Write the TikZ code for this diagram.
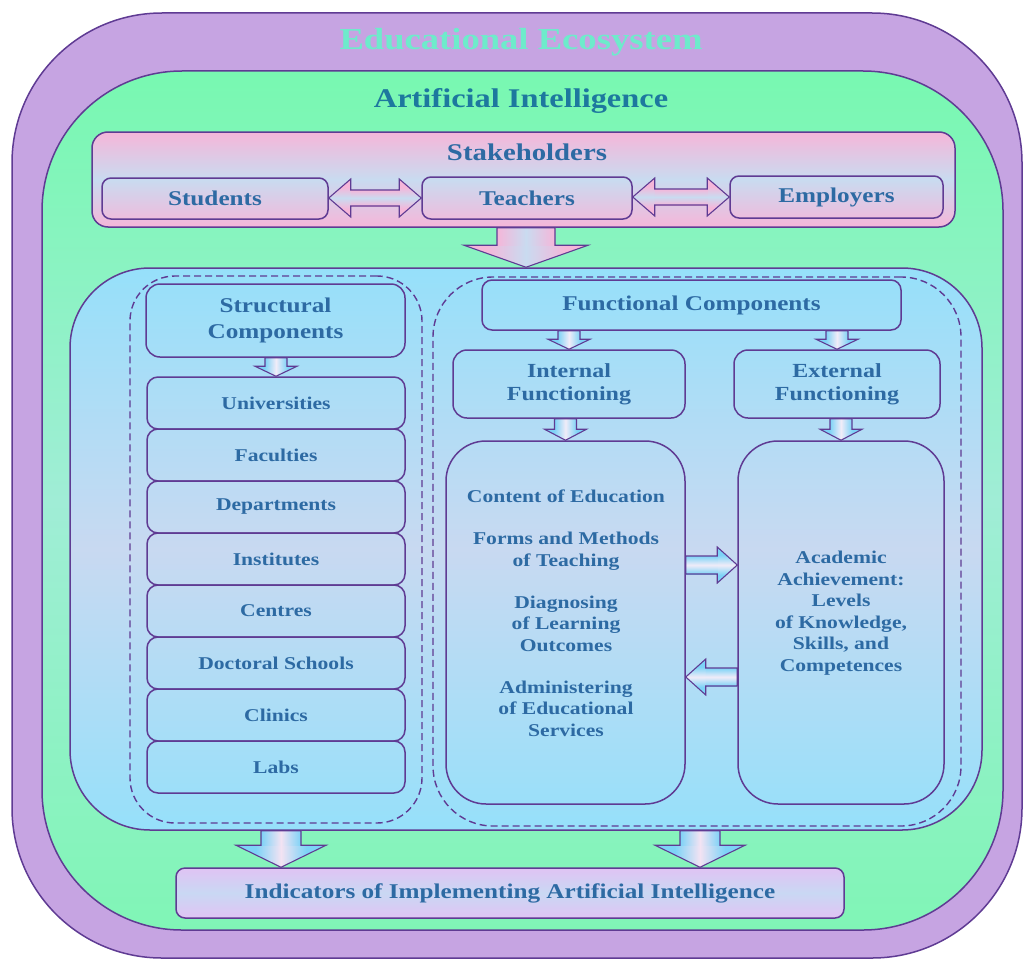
\documentclass[tikz,border=0pt]{standalone}
\usepackage{fontspec}
\setmainfont{Liberation Serif}[FakeStretch=1.2]
\usetikzlibrary{calc}
\definecolor{bordr}{HTML}{5F3B93}
\definecolor{txt}{HTML}{2D6AA3}
\definecolor{aitxt}{HTML}{1D789E}
\definecolor{ecotxt}{HTML}{6EEBCB}
\definecolor{purp}{HTML}{C6A4E2}
\definecolor{grnA}{HTML}{78F8B1}
\definecolor{grnB}{HTML}{A0EDD6}
\definecolor{grnC}{HTML}{80F5B6}
\definecolor{bluA}{HTML}{96E0FA}
\definecolor{bluB}{HTML}{C8D9F1}
\definecolor{pnkA}{HTML}{F5B6D9}
\definecolor{pnkB}{HTML}{C9DBF0}
\definecolor{lilA}{HTML}{E0C3F3}
\definecolor{lilB}{HTML}{C9D8F3}
\definecolor{arrB}{HTML}{7DD3F7}
\definecolor{arrW}{HTML}{F0ECF8}
\definecolor{arrP}{HTML}{F3E3F3}

\pgfdeclarehorizontalshading{headblueV}{100bp}{color(0bp)=(arrB); color(36bp)=(arrB); color(50bp)=(arrW); color(64bp)=(arrB); color(100bp)=(arrB)}
\pgfdeclareverticalshading{headblueH}{100bp}{color(0bp)=(arrB); color(36bp)=(arrB); color(50bp)=(arrW); color(64bp)=(arrB); color(100bp)=(arrB)}
\pgfdeclarehorizontalshading{headblueP}{100bp}{color(0bp)=(arrB); color(36bp)=(arrB); color(50bp)=(arrP); color(64bp)=(arrB); color(100bp)=(arrB)}
\pgfdeclarehorizontalshading{headpinkV}{100bp}{color(0bp)=(pnkA); color(34bp)=(pnkA); color(50bp)=(pnkB); color(66bp)=(pnkA); color(100bp)=(pnkA)}
\pgfdeclareverticalshading{headpinkH}{100bp}{color(0bp)=(pnkA); color(36bp)=(pnkA); color(50bp)=(pnkB); color(64bp)=(pnkA); color(100bp)=(pnkA)}

% block arrows: #1 head shading, #2 shaft shading, #3 source point, #4 target point, #5 shaft half width, #6 head half width, #7 head length
\newcommand\blkdown[7]{%
  \path[#1] let \p1=#3, \p2=#4 in
    (\x2-#5,\y1) -- (\x2+#5,\y1) -- (\x2+#5,\y2+#7) -- (\x2+#6,\y2+#7) -- (\x2,\y2) -- (\x2-#6,\y2+#7) -- (\x2-#5,\y2+#7) -- cycle;
  \path[#2] let \p1=#3, \p2=#4 in (\x2-#5,\y1) rectangle (\x2+#5,\y2+#7);
  \draw[arrline] let \p1=#3, \p2=#4 in
    (\x2-#5,\y1) -- (\x2+#5,\y1) -- (\x2+#5,\y2+#7) -- (\x2+#6,\y2+#7) -- (\x2,\y2) -- (\x2-#6,\y2+#7) -- (\x2-#5,\y2+#7) -- cycle;}
\newcommand\blkright[7]{%
  \path[#1] let \p1=#3, \p2=#4 in
    (\x1,\y2+#5) -- (\x2-#7,\y2+#5) -- (\x2-#7,\y2+#6) -- (\x2,\y2) -- (\x2-#7,\y2-#6) -- (\x2-#7,\y2-#5) -- (\x1,\y2-#5) -- cycle;
  \path[#2] let \p1=#3, \p2=#4 in (\x1,\y2+#5) rectangle (\x2-#7,\y2-#5);
  \draw[arrline] let \p1=#3, \p2=#4 in
    (\x1,\y2+#5) -- (\x2-#7,\y2+#5) -- (\x2-#7,\y2+#6) -- (\x2,\y2) -- (\x2-#7,\y2-#6) -- (\x2-#7,\y2-#5) -- (\x1,\y2-#5) -- cycle;}
\newcommand\blkleft[7]{%
  \path[#1] let \p1=#3, \p2=#4 in
    (\x1,\y2+#5) -- (\x2+#7,\y2+#5) -- (\x2+#7,\y2+#6) -- (\x2,\y2) -- (\x2+#7,\y2-#6) -- (\x2+#7,\y2-#5) -- (\x1,\y2-#5) -- cycle;
  \path[#2] let \p1=#3, \p2=#4 in (\x1,\y2+#5) rectangle (\x2+#7,\y2-#5);
  \draw[arrline] let \p1=#3, \p2=#4 in
    (\x1,\y2+#5) -- (\x2+#7,\y2+#5) -- (\x2+#7,\y2+#6) -- (\x2,\y2) -- (\x2+#7,\y2-#6) -- (\x2+#7,\y2-#5) -- (\x1,\y2-#5) -- cycle;}
\newcommand\blkdouble[7]{%
  \path[#1] let \p1=#3, \p2=#4 in
    (\x1,\y2) -- (\x1+#7,\y2+#6) -- (\x1+#7,\y2+#5) -- (\x2-#7,\y2+#5) -- (\x2-#7,\y2+#6) -- (\x2,\y2) -- (\x2-#7,\y2-#6) -- (\x2-#7,\y2-#5) -- (\x1+#7,\y2-#5) -- (\x1+#7,\y2-#6) -- cycle;
  \path[#2] let \p1=#3, \p2=#4 in (\x1+#7,\y2+#5) rectangle (\x2-#7,\y2-#5);
  \draw[arrline] let \p1=#3, \p2=#4 in
    (\x1,\y2) -- (\x1+#7,\y2+#6) -- (\x1+#7,\y2+#5) -- (\x2-#7,\y2+#5) -- (\x2-#7,\y2+#6) -- (\x2,\y2) -- (\x2-#7,\y2-#6) -- (\x2-#7,\y2-#5) -- (\x1+#7,\y2-#5) -- (\x1+#7,\y2-#6) -- cycle;}

\begin{document}
\begin{tikzpicture}[x=1pt,y=-1pt,
  box/.style={draw=bordr, line width=1.5pt, inner sep=0pt, align=center, text=txt},
  txtonly/.style={inner sep=0pt, align=center, text=txt},
  dashbox/.style={draw=bordr, line width=1.4pt, dash pattern=on 7pt off 4pt, inner sep=0pt},
  arrline/.style={draw=bordr, line width=1.1pt},
  pinkshaft/.style={top color=pnkA, bottom color=pnkA, middle color=pnkB},
  bigpinkshaft/.style={left color=pnkA, right color=pnkA, middle color=pnkB},
  blueshaftv/.style={left color=arrB, right color=arrB, middle color=arrW},
  blueshaftp/.style={left color=arrB, right color=arrB, middle color=arrP},
  blueshafth/.style={top color=arrB, bottom color=arrB, middle color=arrW},
  f30/.style={font=\fontsize{30.5}{36}\selectfont\bfseries},
  f27/.style={font=\fontsize{27}{32}\selectfont\bfseries},
  f24/.style={font=\fontsize{24}{28}\selectfont\bfseries},
  f21/.style={font=\fontsize{21}{26}\selectfont\bfseries},
  f20/.style={font=\fontsize{20}{23}\selectfont\bfseries},
  f18/.style={font=\fontsize{18}{21.5}\selectfont\bfseries}]
\useasboundingbox (0,0) rectangle (1024,963);

% containers
\node[box, rounded corners=150pt, minimum width=1010pt, minimum height=945pt, fill=purp] (eco) at (517,485.5) {};
\node[box, rounded corners=140pt, minimum width=961pt, minimum height=859pt,
  top color=grnA, bottom color=grnC, middle color=grnB] (ai) at (522.5,500.5) {};
\node[box, rounded corners=16pt, minimum width=863pt, minimum height=95pt,
  top color=pnkA, bottom color=pnkA, middle color=pnkB] (stake) at (523.5,179.5) {};
\node[box, rounded corners=80pt, minimum width=912pt, minimum height=562pt,
  top color=bluA, bottom color=bluA, middle color=bluB] (core) at (526,549) {};
\node[box, rounded corners=9pt, minimum width=668pt, minimum height=50pt,
  top color=lilA, bottom color=lilA, middle color=lilB, f21] (ind) at (510,893)
  {Indicators of Implementing Artificial Intelligence};

% titles
\node[txtonly, f30, text=ecotxt] (ecot) at (521,42) {Educational Ecosystem};
\node[txtonly, f27, text=aitxt] (ait) at (521,101) {Artificial Intelligence};
\node[txtonly, f24] (staket) at (527,152) {Stakeholders};

% stakeholders
\node[box, rounded corners=9pt, minimum width=226pt, minimum height=41pt, f21] (stu) at (215,198.5) {Students};
\node[box, rounded corners=9pt, minimum width=210pt, minimum height=42pt, f21] (tea) at (527,198) {Teachers};
\node[box, rounded corners=9pt, minimum width=213pt, minimum height=42pt, f21] (emp) at (836.5,197) {Employers};
\blkdouble{shading=headpinkH}{pinkshaft}{(stu.east)}{(tea.west)}{8pt}{19pt}{22pt}
\blkdouble{shading=headpinkH}{pinkshaft}{(tea.east)}{(emp.west)}{8pt}{19pt}{22pt}
\blkdown{shading=headpinkV}{bigpinkshaft}{(stake.south)}{(core.north)}{29pt}{62pt}{22pt}

% dashed groups
\node[dashbox, rounded corners=45pt, minimum width=292pt, minimum height=547pt] (sgrp) at (276,549.5) {};
\node[dashbox, rounded corners=60pt, minimum width=528pt, minimum height=549pt] (fgrp) at (697,551.5) {};

% structural
\node[box, rounded corners=14pt, minimum width=259pt, minimum height=73pt, f21] (sc) at (275.5,320.5) {Structural\\Components};
\foreach \nm/\lab [count=\i] in {univ/Universities, fac/Faculties, dep/Departments, inst/Institutes, cen/Centres, doc/Doctoral Schools, cli/Clinics, lab/Labs}
  \node[box, rounded corners=11pt, minimum width=258pt, minimum height=52pt, f18] (\nm) at (276,{351+52*\i}) {\lab};
\blkdown{shading=headblueV}{blueshaftv}{(sc.south)}{(univ.north)}{11pt}{21pt}{10pt}

% functional
\node[box, rounded corners=10pt, minimum width=419pt, minimum height=50pt, f21] (fc) at (691.5,305) {Functional Components};
\node[box, rounded corners=14pt, minimum width=232pt, minimum height=68pt, f20] (int) at (569,384) {Internal\\Functioning};
\node[box, rounded corners=14pt, minimum width=206pt, minimum height=68pt, f20] (ext) at (837,384) {External\\Functioning};
\node[box, rounded corners=40pt, minimum width=239pt, minimum height=363pt] (intbig) at (565.5,622.5) {};
\node[box, rounded corners=40pt, minimum width=206pt, minimum height=363pt] (extbig) at (841,622.5) {};
\node[txtonly, f18] (intlist) at (566,613) {Content of Education\\[20.5pt]Forms and Methods\\of Teaching\\[20.5pt]Diagnosing\\of Learning\\Outcomes\\[20.5pt]Administering\\of Educational\\Services};
\node[txtonly, f18] (extlist) at (841,613) {Academic\\Achievement:\\Levels\\of Knowledge,\\Skills, and\\Competences};

\blkdown{shading=headblueV}{blueshaftv}{(fc.south)}{(int.north)}{11pt}{21pt}{10pt}
\blkdown{shading=headblueV}{blueshaftv}{(fc.south)}{(ext.north)}{11pt}{21pt}{10pt}
\blkdown{shading=headblueV}{blueshaftv}{(int.south)}{(intbig.north)}{11pt}{21pt}{11pt}
\blkdown{shading=headblueV}{blueshaftv}{(ext.south)}{(extbig.north)}{11pt}{21pt}{11pt}
\blkright{shading=headblueH}{blueshafth}{(intbig.east)}{($(extbig.west)+(0,-57.5)$)}{9pt}{18pt}{20pt}
\blkleft{shading=headblueH}{blueshafth}{(extbig.west)}{($(intbig.east)+(0,54.5)$)}{9pt}{18pt}{20pt}

% bottom arrows
\blkdown{shading=headblueP}{blueshaftp}{(core.south)}{($(ind.north)+(-229,0)$)}{20pt}{45pt}{22pt}
\blkdown{shading=headblueP}{blueshaftp}{(core.south)}{($(ind.north)+(190,0)$)}{20pt}{45pt}{22pt}
\end{tikzpicture}
\end{document}
